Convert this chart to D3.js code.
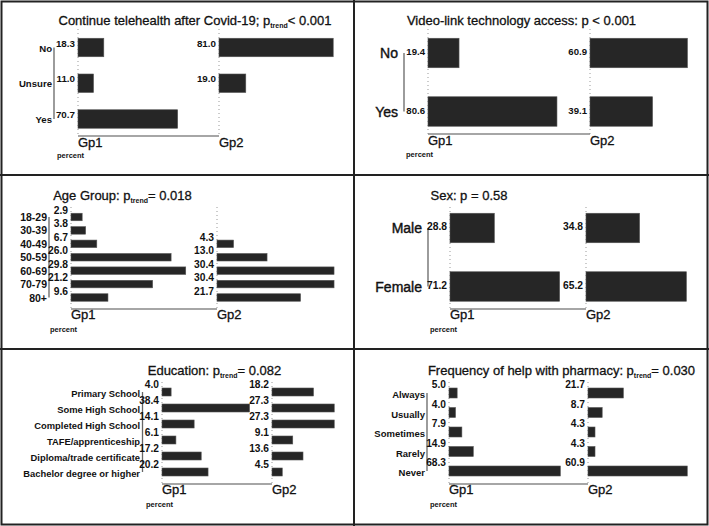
<!DOCTYPE html>
<html><head><meta charset="utf-8">
<script src="https://cdn.jsdelivr.net/npm/d3@7"></script>
<style>
body{margin:0;background:#fff;}
svg{display:block;font-family:"Liberation Sans",Arial,Helvetica,sans-serif;}
</style></head>
<body>
<svg id="chart" width="709" height="526"></svg>
<script>
// ---------- data ----------
const groupLabels = ["Gp1", "Gp2"];

const telehealthCats = ["No", "Unsure", "Yes"];
const telehealthGp1 = [18.3, 11.0, 70.7];
const telehealthGp2 = [81.0, 19.0, null];

const videoCats = ["No", "Yes"];
const videoGp1 = [19.4, 80.6];
const videoGp2 = [60.9, 39.1];

const ageCats = ["18-29", "30-39", "40-49", "50-59", "60-69", "70-79", "80+"];
const ageGp1 = [2.9, 3.8, 6.7, 26.0, 29.8, 21.2, 9.6];
const ageGp2 = [null, null, 4.3, 13.0, 30.4, 30.4, 21.7];

const sexCats = ["Male", "Female"];
const sexGp1 = [28.8, 71.2];
const sexGp2 = [34.8, 65.2];

const eduCats = ["Primary School", "Some High School", "Completed High School", "TAFE/apprenticeship", "Diploma/trade certificate", "Bachelor degree or higher"];
const eduGp1 = [4.0, 38.4, 14.1, 6.1, 17.2, 20.2];
const eduGp2 = [18.2, 27.3, 27.3, 9.1, 13.6, 4.5];

const pharmCats = ["Always", "Usually", "Sometimes", "Rarely", "Never"];
const pharmGp1 = [5.0, 4.0, 7.9, 14.9, 68.3];
const pharmGp2 = [21.7, 8.7, 4.3, 4.3, 60.9];

// title parts: [main, subscript, rest]
const titles = [
  ["Continue telehealth after Covid-19; p", "trend", "< 0.001"],
  ["Video-link technology access: p < 0.001", "", ""],
  ["Age Group: p", "trend", "= 0.018"],
  ["Sex: p = 0.58", "", ""],
  ["Education: p", "trend", "= 0.082"],
  ["Frequency of help with pharmacy: p", "trend", "= 0.030"]
];

// ---------- layout (positions only) ----------
const panels = [
  {ox:0,   oy:0,   cats:telehealthCats, g1:telehealthGp1, g2:telehealthGp2, gx:[78,219], k:1.41, rows:[47.5,119], barH:18.5, catX:52, catSize:9.6, catW:"bold", catDy:4, brX:54, valDy:-1, valSize:9.8, aTop:29, aBot:136, gpY:147, pctX:57, pctY:158, tX:195, tY:25},
  {ox:354, oy:0,   cats:videoCats, g1:videoGp1, g2:videoGp2, gx:[74,236], k:1.6, rows:[53,111.5], barH:29.5, catX:44, catSize:14, catW:"normal", catDy:5, brX:50, valDy:2, valSize:9.6, aTop:29, aBot:134, gpY:145, pctX:52, pctY:157, tX:167.5, tY:25},
  {ox:0,   oy:175, cats:ageCats, g1:ageGp1, g2:ageGp2, gx:[71,217], k:3.85, rows:[42,122.5], barH:7.5, catX:47, catSize:10.5, catW:"bold", catDy:4, brX:49, valDy:-3, valSize:10.3, aTop:32, aBot:134, gpY:144, pctX:50, pctY:157, tX:122.5, tY:25},
  {ox:354, oy:175, cats:sexCats, g1:sexGp1, g2:sexGp2, gx:[96,232], k:1.54, rows:[53,111.5], barH:29.5, catX:68, catSize:14, catW:"normal", catDy:5, brX:74, valDy:2, valSize:10.3, aTop:32, aBot:134, gpY:144, pctX:76, pctY:157, tX:115, tY:25},
  {ox:0,   oy:350, cats:eduCats, g1:eduGp1, g2:eduGp2, gx:[162,272], k:2.28, rows:[42,122], barH:8, catX:140, catSize:9.4, catW:"bold", catDy:5, brX:142.5, valDy:-4, valSize:10.2, aTop:32, aBot:134, gpY:144, pctX:146, pctY:157, tX:214.5, tY:25},
  {ox:354, oy:350, cats:pharmCats, g1:pharmGp1, g2:pharmGp2, gx:[95,234], k:1.63, rows:[43,121], barH:10, catX:71, catSize:9.5, catW:"bold", catDy:5, brX:73, valDy:-5, valSize:10.2, aTop:32, aBot:134, gpY:144, pctX:76, pctY:157, tX:207.5, tY:25}
];

const svg = d3.select("#chart");
svg.append("rect").attr("width",709).attr("height",526).attr("fill","#fff");

panels.forEach((p, i) => {
  const g = svg.append("g").attr("transform", `translate(${p.ox},${p.oy})`);
  const x = d3.scaleLinear().domain([0, 100]).range([0, 100 * p.k]);
  const y = d3.scalePoint().domain(p.cats).range(p.rows);
  const gxScale = d3.scaleOrdinal().domain(groupLabels).range(p.gx);

  // title
  const t = titles[i];
  const tt = g.append("text").attr("x", p.tX).attr("y", p.tY).attr("text-anchor","middle")
    .attr("font-size", 13).attr("fill","#111").attr("stroke","#111").attr("stroke-width",0.3);
  tt.append("tspan").text(t[0]);
  if (t[1]) {
    tt.append("tspan").attr("font-size", 7).attr("font-weight","bold").attr("stroke-width",0).attr("dy", 3).text(t[1]);
    tt.append("tspan").attr("dy", -3).text(t[2]);
  }

  // dotted vertical axes
  groupLabels.forEach(gl => {
    g.append("line").attr("x1", gxScale(gl)).attr("x2", gxScale(gl))
      .attr("y1", p.aTop).attr("y2", p.aBot)
      .attr("stroke", "#999").attr("stroke-width", 1).attr("stroke-dasharray", "1,3");
  });
  // baseline
  g.append("line").attr("x1", p.gx[0]).attr("x2", p.gx[1]).attr("y1", p.aBot).attr("y2", p.aBot)
    .attr("stroke", "#888").attr("stroke-width", 1.5);

  // group labels
  groupLabels.forEach(gl => {
    g.append("text").attr("x", gxScale(gl)).attr("y", p.gpY).attr("font-size", 13)
      .attr("fill","#111").attr("stroke","#111").attr("stroke-width",0.3).text(gl);
  });
  g.append("text").attr("x", p.pctX).attr("y", p.pctY).attr("font-size", 7.5)
    .attr("font-weight","bold").attr("fill","#111").text("percent");

  // bracket
  g.append("line").attr("x1", p.brX).attr("x2", p.brX)
    .attr("y1", y(p.cats[0])).attr("y2", y(p.cats[p.cats.length - 1]))
    .attr("stroke", "#666").attr("stroke-width", 1.3);

  // category labels
  g.selectAll("text.cat").data(p.cats).join("text").attr("class","cat")
    .attr("x", p.catX).attr("y", d => y(d) + p.catDy).attr("text-anchor","end")
    .attr("font-size", p.catSize).attr("font-weight", p.catW)
    .attr("fill","#111").attr("stroke","#111").attr("stroke-width", p.catW === "bold" ? 0 : 0.4)
    .text(d => d);

  // bars + values
  [p.g1, p.g2].forEach((vals, gi) => {
    const x0 = gxScale(groupLabels[gi]);
    const rows = p.cats.map((c, j) => ({c, v: vals[j]})).filter(d => d.v != null);
    g.selectAll(`rect.b${gi}`).data(rows).join("rect").attr("class", `b${gi}`)
      .attr("x", x0).attr("y", d => y(d.c) - p.barH / 2)
      .attr("width", d => x(d.v)).attr("height", p.barH)
      .attr("fill", "#262626").attr("stroke", "#555").attr("stroke-width", 0.6);
    g.selectAll(`text.v${gi}`).data(rows).join("text").attr("class", `v${gi}`)
      .attr("x", x0 - 3).attr("y", d => y(d.c) + p.valDy).attr("text-anchor","end")
      .attr("font-size", p.valSize).attr("font-weight","bold").attr("fill","#111")
      .text(d => d.v.toFixed(1));
  });
});

// frame and dividers
const frame = svg.append("g").attr("fill","none").attr("stroke","#222").attr("stroke-width",2);
frame.append("rect").attr("x",1.5).attr("y",1.5).attr("width",706).attr("height",523);
frame.append("line").attr("x1",354).attr("x2",354).attr("y1",0).attr("y2",526);
frame.append("line").attr("x1",0).attr("x2",709).attr("y1",175).attr("y2",175);
frame.append("line").attr("x1",0).attr("x2",709).attr("y1",349).attr("y2",349);
</script>
</body></html>
